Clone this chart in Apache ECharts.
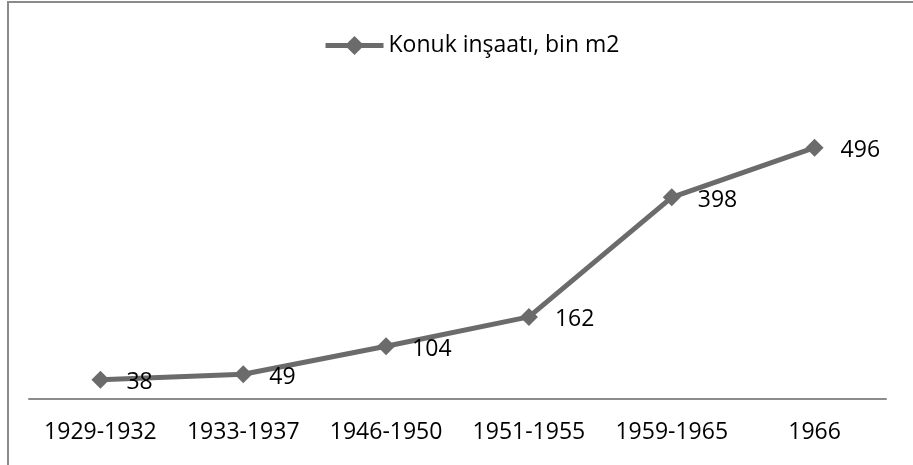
<!DOCTYPE html>
<html>
<head>
<meta charset="utf-8">
<script src="https://cdn.jsdelivr.net/npm/echarts@6/dist/echarts.min.js"></script>
<style>
  html, body { margin: 0; padding: 0; background: #fff; }
  #frame { position: absolute; left: 7px; top: 1px; width: 906px; height: 462px;
           border-left: 2px solid #8a8a8a; border-top: 2px solid #8a8a8a; border-bottom: 1px solid #d0d0d0; }
  #chart { position: absolute; left: 0; top: 0; width: 913px; height: 465px; }
</style>
</head>
<body>
<div id="frame"></div>
<div id="chart"></div>
<script>
const periods = ['1929-1932', '1933-1937', '1946-1950', '1951-1955', '1959-1965', '1966']
const buildArea = [38, 49, 104, 162, 398, 496]
const seriesName = 'Konuk inşaatı, bin m2'

const font = '"Open Sans", sans-serif'
const chart = echarts.init(document.getElementById('chart'))
chart.setOption({
    backgroundColor: 'transparent',
    animation: false,
    legend: {
        top: 29,
        left: 318,
        itemWidth: 58,
        itemHeight: 24,
        itemGap: 4,
        lineStyle: { width: 5, color: '#6b6b6b' },
        itemStyle: { color: '#6b6b6b' },
        textStyle: { fontFamily: font, fontSize: 23, color: '#000' },
        data: [seriesName]
    },
    grid: { left: 29, right: 27, top: 95, bottom: 66 },
    xAxis: {
        type: 'category',
        data: periods,
        boundaryGap: true,
        axisLine: { lineStyle: { color: '#8c8c8c', width: 2 } },
        axisTick: { show: false },
        axisLabel: { interval: 0, fontFamily: font, fontSize: 23, color: '#000', margin: 22 }
    },
    yAxis: {
        type: 'value',
        min: 0,
        max: 600,
        interval: 100,
        show: false,
        splitLine: { show: false }
    },
    series: [{
        name: seriesName,
        type: 'line',
        data: buildArea,
        symbol: 'diamond',
        symbolSize: 18,
        lineStyle: { color: '#6b6b6b', width: 5 },
        itemStyle: { color: '#6b6b6b' },
        label: {
            show: true,
            position: 'right',
            distance: 17,
            offset: [0, 3],
            fontFamily: font,
            fontSize: 23,
            color: '#000'
        }
    }]
})
</script>
</body>
</html>
